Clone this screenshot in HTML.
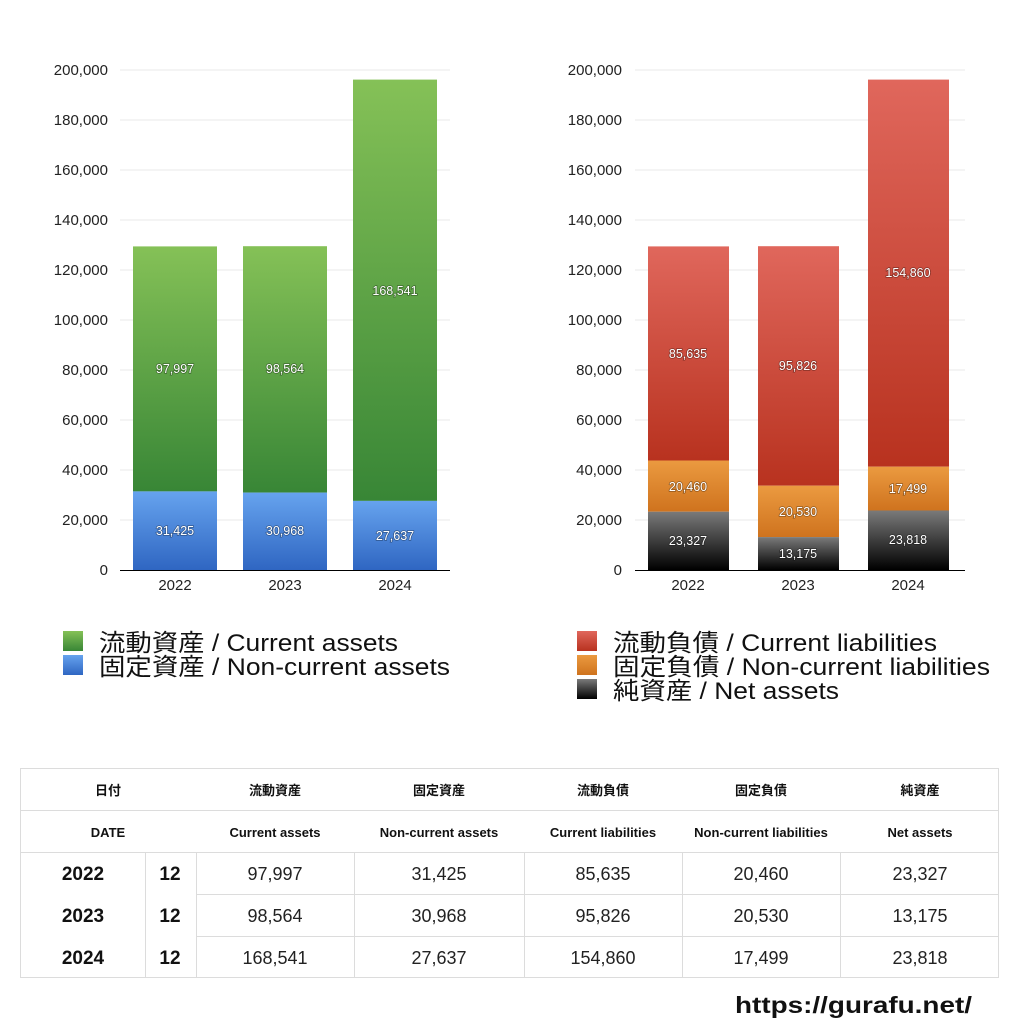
<!DOCTYPE html>
<html><head><meta charset="utf-8"><style>
body{margin:0;background:#fff;width:1024px;height:1024px;overflow:hidden;font-family:"Liberation Sans","Noto Sans CJK JP",sans-serif}
svg{position:absolute;left:0;top:0}
text{font-family:"Liberation Sans","Noto Sans CJK JP",sans-serif}
.lbl{fill:#fff;font-size:12.5px;text-anchor:middle;paint-order:stroke;stroke:rgba(0,0,0,0.35);stroke-width:1.5px}
.ax{font-size:15px;fill:#222}
.leg{font-size:24px;fill:#111}
.th{font-size:13px;font-weight:bold;fill:#111;text-anchor:middle}
.td{font-size:18px;fill:#222;text-anchor:middle}
.tb{font-size:19px;font-weight:bold;fill:#111;text-anchor:middle}
</style></head><body>
<svg width="1024" height="1024" viewBox="0 0 1024 1024">
<defs>
<linearGradient id="g" x1="0" y1="0" x2="0" y2="1"><stop offset="0" stop-color="#85c157"/><stop offset="1" stop-color="#388636"/></linearGradient>
<linearGradient id="b" x1="0" y1="0" x2="0" y2="1"><stop offset="0" stop-color="#66a3ee"/><stop offset="1" stop-color="#2f66c2"/></linearGradient>
<linearGradient id="r" x1="0" y1="0" x2="0" y2="1"><stop offset="0" stop-color="#e0675c"/><stop offset="1" stop-color="#b8321f"/></linearGradient>
<linearGradient id="o" x1="0" y1="0" x2="0" y2="1"><stop offset="0" stop-color="#eb9a40"/><stop offset="1" stop-color="#cf731e"/></linearGradient>
<linearGradient id="k" x1="0" y1="0" x2="0" y2="1"><stop offset="0" stop-color="#7a7a7a"/><stop offset="1" stop-color="#000"/></linearGradient>
</defs>
<g stroke="#e8e8e8" stroke-width="1">
<line x1="120" x2="450" y1="70" y2="70"/><line x1="120" x2="450" y1="120" y2="120"/><line x1="120" x2="450" y1="170" y2="170"/><line x1="120" x2="450" y1="220" y2="220"/><line x1="120" x2="450" y1="270" y2="270"/><line x1="120" x2="450" y1="320" y2="320"/><line x1="120" x2="450" y1="370" y2="370"/><line x1="120" x2="450" y1="420" y2="420"/><line x1="120" x2="450" y1="470" y2="470"/><line x1="120" x2="450" y1="520" y2="520"/>
<line x1="635" x2="965" y1="70" y2="70"/><line x1="635" x2="965" y1="120" y2="120"/><line x1="635" x2="965" y1="170" y2="170"/><line x1="635" x2="965" y1="220" y2="220"/><line x1="635" x2="965" y1="270" y2="270"/><line x1="635" x2="965" y1="320" y2="320"/><line x1="635" x2="965" y1="370" y2="370"/><line x1="635" x2="965" y1="420" y2="420"/><line x1="635" x2="965" y1="470" y2="470"/><line x1="635" x2="965" y1="520" y2="520"/>
</g>
<g class="ax" text-anchor="end">
<text x="108" y="75">200,000</text><text x="108" y="125">180,000</text><text x="108" y="175">160,000</text><text x="108" y="225">140,000</text><text x="108" y="275">120,000</text><text x="108" y="325">100,000</text><text x="108" y="375">80,000</text><text x="108" y="425">60,000</text><text x="108" y="475">40,000</text><text x="108" y="525">20,000</text><text x="108" y="575">0</text>
<text x="622" y="75">200,000</text><text x="622" y="125">180,000</text><text x="622" y="175">160,000</text><text x="622" y="225">140,000</text><text x="622" y="275">120,000</text><text x="622" y="325">100,000</text><text x="622" y="375">80,000</text><text x="622" y="425">60,000</text><text x="622" y="475">40,000</text><text x="622" y="525">20,000</text><text x="622" y="575">0</text>
</g>
<rect x="133" y="246.4" width="84" height="245" fill="url(#g)"/><rect x="133" y="491.4" width="84" height="78.6" fill="url(#b)"/>
<rect x="243" y="246.2" width="84" height="246.4" fill="url(#g)"/><rect x="243" y="492.6" width="84" height="77.4" fill="url(#b)"/>
<rect x="353" y="79.6" width="84" height="421.3" fill="url(#g)"/><rect x="353" y="500.9" width="84" height="69.1" fill="url(#b)"/>
<rect x="648" y="246.4" width="81" height="214.1" fill="url(#r)"/><rect x="648" y="460.5" width="81" height="51.2" fill="url(#o)"/><rect x="648" y="511.7" width="81" height="58.3" fill="url(#k)"/>
<rect x="758" y="246.2" width="81" height="239.5" fill="url(#r)"/><rect x="758" y="485.7" width="81" height="51.4" fill="url(#o)"/><rect x="758" y="537.1" width="81" height="32.9" fill="url(#k)"/>
<rect x="868" y="79.6" width="81" height="387.1" fill="url(#r)"/><rect x="868" y="466.7" width="81" height="43.8" fill="url(#o)"/><rect x="868" y="510.5" width="81" height="59.5" fill="url(#k)"/>
<line x1="120" x2="450" y1="570.5" y2="570.5" stroke="#000"/>
<line x1="635" x2="965" y1="570.5" y2="570.5" stroke="#000"/>
<g class="lbl">
<text x="175" y="373">97,997</text><text x="175" y="535">31,425</text>
<text x="285" y="373">98,564</text><text x="285" y="535">30,968</text>
<text x="395" y="295">168,541</text><text x="395" y="540">27,637</text>
<text x="688" y="358">85,635</text><text x="688" y="491">20,460</text><text x="688" y="545">23,327</text>
<text x="798" y="370">95,826</text><text x="798" y="516">20,530</text><text x="798" y="558">13,175</text>
<text x="908" y="277">154,860</text><text x="908" y="493">17,499</text><text x="908" y="544">23,818</text>
</g>
<g class="ax" text-anchor="middle">
<text x="175" y="590">2022</text><text x="285" y="590">2023</text><text x="395" y="590">2024</text>
<text x="688" y="590">2022</text><text x="798" y="590">2023</text><text x="908" y="590">2024</text>
</g>
<rect x="63" y="631" width="20" height="20" fill="url(#g)"/><rect x="63" y="655" width="20" height="20" fill="url(#b)"/>
<text class="leg" x="99" y="651" textLength="299" lengthAdjust="spacingAndGlyphs">流動資産 / Current assets</text>
<text class="leg" x="99" y="675" textLength="351" lengthAdjust="spacingAndGlyphs">固定資産 / Non-current assets</text>
<rect x="577" y="631" width="20" height="20" fill="url(#r)"/><rect x="577" y="655" width="20" height="20" fill="url(#o)"/><rect x="577" y="679" width="20" height="20" fill="url(#k)"/>
<text class="leg" x="613" y="651" textLength="324" lengthAdjust="spacingAndGlyphs">流動負債 / Current liabilities</text>
<text class="leg" x="613" y="675" textLength="377" lengthAdjust="spacingAndGlyphs">固定負債 / Non-current liabilities</text>
<text class="leg" x="613" y="699" textLength="226" lengthAdjust="spacingAndGlyphs">純資産 / Net assets</text>
<g stroke="#dcdcdc" stroke-width="1">
<line x1="20" x2="999" y1="768.5" y2="768.5"/><line x1="20" x2="999" y1="810.5" y2="810.5"/><line x1="20" x2="999" y1="852.5" y2="852.5"/><line x1="196" x2="999" y1="894.5" y2="894.5"/><line x1="196" x2="999" y1="936.5" y2="936.5"/><line x1="20" x2="999" y1="977.5" y2="977.5"/>
<line x1="20.5" x2="20.5" y1="768" y2="978"/><line x1="998.5" x2="998.5" y1="768" y2="978"/>
<line x1="145.5" x2="145.5" y1="852" y2="978"/><line x1="196.5" x2="196.5" y1="852" y2="978"/><line x1="354.5" x2="354.5" y1="852" y2="978"/><line x1="524.5" x2="524.5" y1="852" y2="978"/><line x1="682.5" x2="682.5" y1="852" y2="978"/><line x1="840.5" x2="840.5" y1="852" y2="978"/>
</g>
<g class="th">
<text x="108" y="795">日付</text><text x="275" y="795">流動資産</text><text x="439" y="795">固定資産</text><text x="603" y="795">流動負債</text><text x="761" y="795">固定負債</text><text x="920" y="795">純資産</text>
<text x="108" y="837">DATE</text><text x="275" y="837">Current assets</text><text x="439" y="837">Non-current assets</text><text x="603" y="837">Current liabilities</text><text x="761" y="837">Non-current liabilities</text><text x="920" y="837">Net assets</text>
</g>
<g class="tb"><text x="83" y="880">2022</text><text x="170" y="880">12</text><text x="83" y="922">2023</text><text x="170" y="922">12</text><text x="83" y="964">2024</text><text x="170" y="964">12</text></g>
<g class="td">
<text x="275" y="880">97,997</text><text x="439" y="880">31,425</text><text x="603" y="880">85,635</text><text x="761" y="880">20,460</text><text x="920" y="880">23,327</text>
<text x="275" y="922">98,564</text><text x="439" y="922">30,968</text><text x="603" y="922">95,826</text><text x="761" y="922">20,530</text><text x="920" y="922">13,175</text>
<text x="275" y="964">168,541</text><text x="439" y="964">27,637</text><text x="603" y="964">154,860</text><text x="761" y="964">17,499</text><text x="920" y="964">23,818</text>
</g>
<text x="735" y="1013" textLength="237" lengthAdjust="spacingAndGlyphs" style="font-size:23px;font-weight:bold;fill:#111">https://gurafu.net/</text>
</svg>
</body></html>
